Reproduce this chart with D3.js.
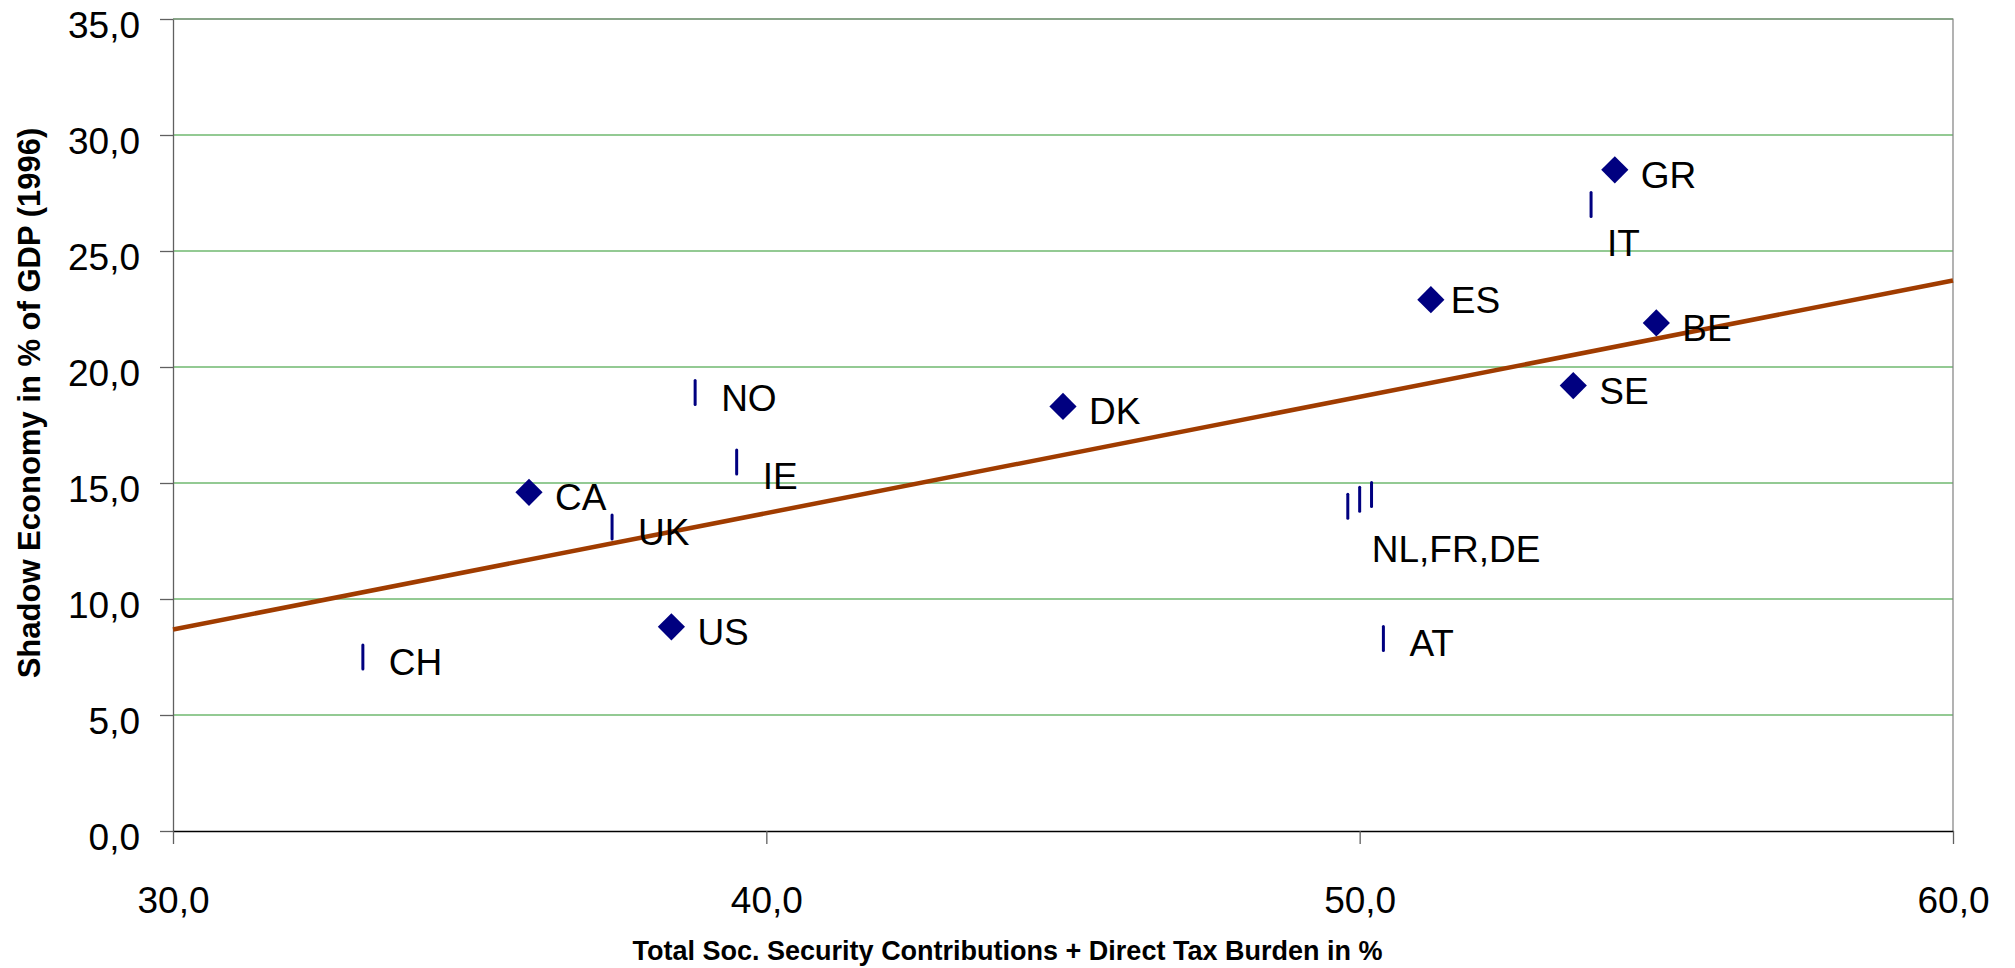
<!DOCTYPE html>
<html>
<head>
<meta charset="utf-8">
<script src="https://cdn.jsdelivr.net/npm/d3@7"></script>
<style>
  body { margin: 0; background: #fff; }
  svg { display: block; font-family: Arial, "Liberation Sans", sans-serif; }
</style>
</head>
<body>
<div id="chart"></div>
<script>
// Data
const countries = ['CH', 'CA', 'UK', 'US', 'NO', 'IE', 'DK', 'NL', 'FR', 'DE', 'AT', 'ES', 'SE', 'IT', 'GR', 'BE'];
const taxBurden = [33.2, 36.0, 37.4, 38.4, 38.8, 39.5, 45.0, 49.8, 50.0, 50.2, 50.4, 51.2, 53.6, 53.9, 54.3, 55.0];
const shadowEconomy = [7.5, 14.6, 13.1, 8.8, 18.9, 15.9, 18.3, 14.0, 14.3, 14.5, 8.3, 22.9, 19.2, 27.0, 28.5, 21.9];
const pointLabels = ['CH', 'CA', 'UK', 'US', 'NO', 'IE', 'DK', 'NL,FR,DE', '', '', 'AT', 'ES', 'SE', 'IT', 'GR', 'BE'];
// countries in the diamond series, the rest are in the dash series
const diamondSeries = ['CA', 'US', 'DK', 'ES', 'SE', 'GR', 'BE'];

const xTicks = [30, 40, 50, 60];
const yTicks = [0, 5, 10, 15, 20, 25, 30, 35];

const xTitle = 'Total Soc. Security Contributions + Direct Tax Burden in %';
const yTitle = 'Shadow Economy in % of GDP (1996)';

// label nudges (pixels) where the labels were moved by hand
const labelNudge = {
    ES: [20, 13],
    IT: [16, 51],
    IE: [26, 27],
    NL: [24, 56]
};

const width = 2015, height = 968;
const plot = { left: 173, right: 1953, top: 19, bottom: 831 };

const svg = d3.select('#chart').append('svg')
    .attr('width', width)
    .attr('height', height);

const x = d3.scaleLinear().domain([30, 60]).range([plot.left, plot.right]);
const y = d3.scaleLinear().domain([0, 35]).range([plot.bottom, plot.top]);

const locale = d3.formatLocale({ decimal: ',', thousands: '.', grouping: [3], currency: ['', ''] });
const fmt = locale.format('.1f');

const points = countries.map((c, i) => ({
    code: c,
    x: taxBurden[i],
    y: shadowEconomy[i],
    label: pointLabels[i],
    diamond: diamondSeries.includes(c)
}));

// gridlines
svg.append('g')
    .selectAll('line')
    .data(yTicks.filter(d => d > 0))
    .enter()
    .append('line')
    .attr('x1', plot.left)
    .attr('x2', plot.right)
    .attr('y1', d => y(d))
    .attr('y2', d => y(d))
    .attr('stroke', '#6fb86f')
    .attr('stroke-width', 1.6);

// plot border (top and right)
svg.append('path')
    .attr('d', `M${plot.left},${plot.top}H${plot.right}V${plot.bottom}`)
    .attr('fill', 'none')
    .attr('stroke', '#808080')
    .attr('stroke-width', 1.2);

// axes
const yAxis = svg.append('g')
    .attr('transform', `translate(${plot.left},0)`)
    .call(d3.axisLeft(y).tickValues(yTicks).tickSize(13).tickSizeOuter(0).tickPadding(20).tickFormat(fmt));

const xAxis = svg.append('g')
    .attr('transform', `translate(0,${plot.bottom})`)
    .call(d3.axisBottom(x).tickValues(xTicks).tickSize(13).tickSizeOuter(0).tickFormat(fmt));

yAxis.select('.domain').attr('stroke', '#606060').attr('stroke-width', 1.3);
yAxis.selectAll('.tick line').attr('stroke', '#606060').attr('stroke-width', 1.3);
yAxis.selectAll('.tick text')
    .attr('dy', '0.49em')
    .attr('font-size', 37)
    .attr('font-family', 'Arial, "Liberation Sans", sans-serif')
    .attr('fill', '#000');

xAxis.select('.domain').attr('stroke', '#000').attr('stroke-width', 1.5);
xAxis.selectAll('.tick line').attr('stroke', '#606060').attr('stroke-width', 1.3);
xAxis.selectAll('.tick text')
    .attr('y', 82)
    .attr('dy', 0)
    .attr('font-size', 37)
    .attr('font-family', 'Arial, "Liberation Sans", sans-serif')
    .attr('fill', '#000');

// least squares trend line through all points
const mx = d3.mean(points, d => d.x);
const my = d3.mean(points, d => d.y);
const slope = d3.sum(points, d => (d.x - mx) * (d.y - my)) / d3.sum(points, d => (d.x - mx) ** 2);
const intercept = my - slope * mx;
const trend = x.domain().map(v => ({ x: v, y: intercept + slope * v }));

svg.append('path')
    .datum(trend)
    .attr('fill', 'none')
    .attr('stroke', '#a03c00')
    .attr('stroke-width', 4.5)
    .attr('d', d3.line().x(d => x(d.x)).y(d => y(d.y)));

// markers
svg.append('g')
    .selectAll('path')
    .data(points.filter(d => d.diamond))
    .enter()
    .append('path')
    .attr('d', d3.symbol(d3.symbolSquare).size(370))
    .attr('transform', d => `translate(${x(d.x)},${y(d.y)}) rotate(45)`)
    .attr('fill', '#000080');

svg.append('g')
    .selectAll('line')
    .data(points.filter(d => !d.diamond))
    .enter()
    .append('line')
    .attr('x1', d => x(d.x))
    .attr('x2', d => x(d.x))
    .attr('y1', d => y(d.y) - 12)
    .attr('y2', d => y(d.y) + 12)
    .attr('stroke', '#000080')
    .attr('stroke-width', 3)
    .attr('stroke-linecap', 'round');

// data labels
svg.append('g')
    .selectAll('text')
    .data(points.filter(d => d.label))
    .enter()
    .append('text')
    .attr('x', d => x(d.x) + (labelNudge[d.code] || [26, 18])[0])
    .attr('y', d => y(d.y) + (labelNudge[d.code] || [26, 18])[1])
    .attr('font-size', 37)
    .attr('fill', '#000')
    .text(d => d.label);

// axis titles
svg.append('text')
    .attr('x', width / 2)
    .attr('y', 960)
    .attr('text-anchor', 'middle')
    .attr('font-size', 27)
    .attr('font-weight', 'bold')
    .text(xTitle);

svg.append('text')
    .attr('transform', 'translate(40,403) rotate(-90)')
    .attr('text-anchor', 'middle')
    .attr('font-size', 31)
    .attr('font-weight', 'bold')
    .text(yTitle);
</script>
</body>
</html>
